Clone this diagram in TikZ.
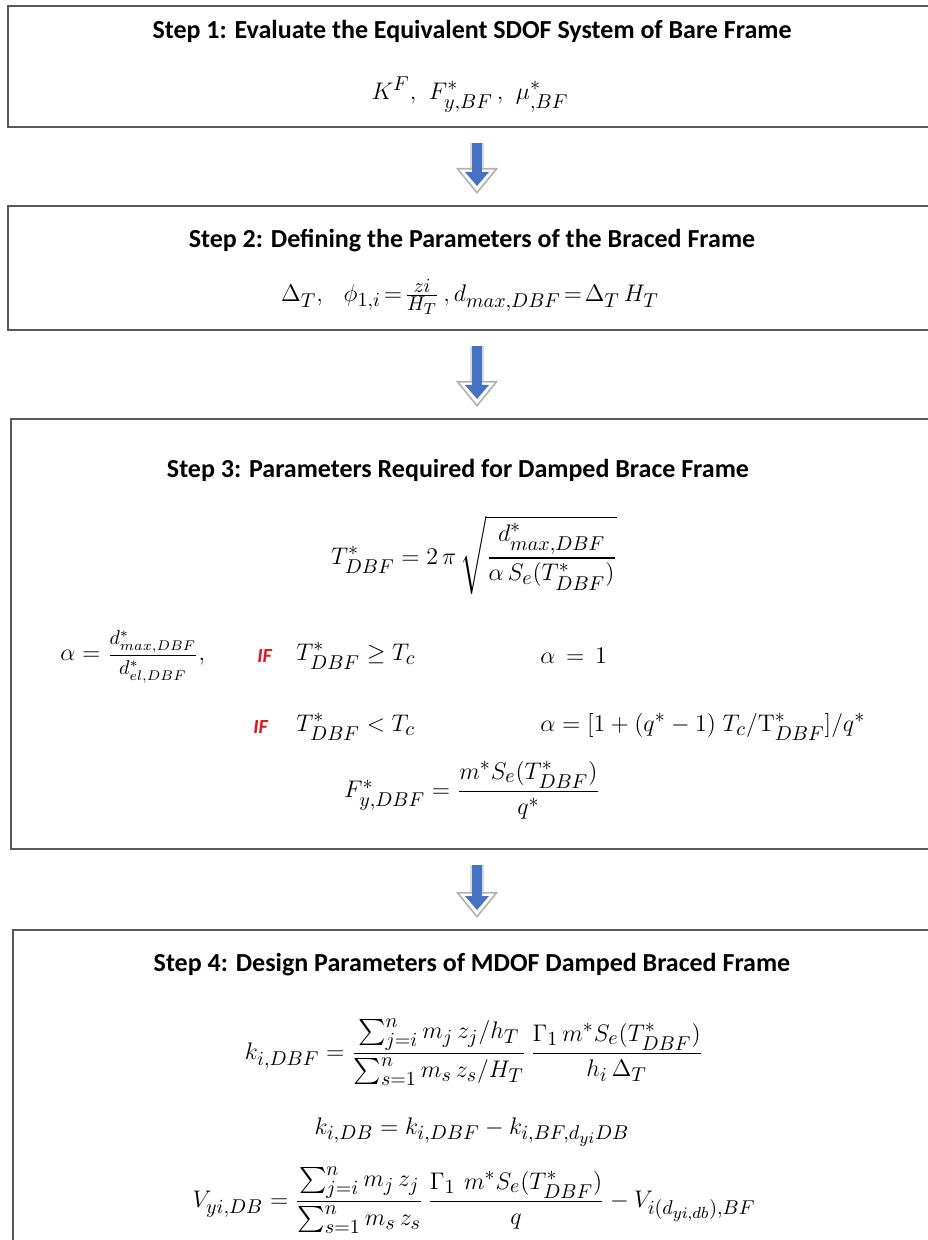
\documentclass[tikz,border=0pt]{standalone}
\usepackage[no-math]{fontspec}
\usepackage{amsmath,amssymb}
\newfontfamily\calfont{Carlito}
\DeclareMathSizes{13}{13}{10}{8}
\usetikzlibrary{positioning,arrows.meta}
\definecolor{flowblue}{HTML}{4472C4}
\definecolor{ifred}{HTML}{E8141B}
\definecolor{boxgrey}{HTML}{5A5A5A}
\tikzset{
  stepbox/.style={draw=boxgrey,line width=1pt,fill=none,inner sep=0pt,outer sep=0pt},
  steptitle/.style={font=\calfont\bfseries\fontsize{13}{15}\selectfont,inner sep=1pt},
  eqn/.style={font=\fontsize{13}{16}\selectfont,inner sep=1pt},
  ifmark/.style={font=\calfont\bfseries\itshape\fontsize{10}{11}\selectfont,text=ifred,inner sep=0pt},
  flowshade/.style={draw=gray!30,line width=7pt,shorten <=8pt,shorten >=6pt,
    -{Triangle[width=21pt,length=13pt,fill=white,color=gray!60,line width=0.8pt]}},
  flowarrow/.style={draw=flowblue,line width=5pt,shorten <=8pt,shorten >=10pt,
    -{Triangle[width=12pt,length=7pt,fill=flowblue,color=flowblue,line width=0pt]}},
}
\begin{document}
\begin{tikzpicture}[x=0.5pt,y=-0.5pt]
  \useasboundingbox (0,0) rectangle (927,1240);
  % the four step boxes
  \node[stepbox,minimum width=469pt,minimum height=60.5pt] (s1) at (477,66.5) {};
  \node[stepbox,minimum width=469pt,minimum height=62pt] (s2) at (477,268) {};
  \node[stepbox,minimum width=466pt,minimum height=215pt] (s3) at (477,634) {};
  \node[stepbox,minimum width=464pt,minimum height=180pt] (s4) at (477,1110) {};
  % step 1
  \node[steptitle] (t1) at (472,31) {Step 1: Evaluate the Equivalent SDOF System of Bare Frame};
  \node[eqn] (e1) at (470,95) {$K^F,\ F^*_{y,BF}\,,\ \mu^*_{,BF}$};
  % step 2
  \node[steptitle] (t2) at (472,241) {Step 2: Defining the Parameters of the Braced Frame};
  \node[eqn] (e2) at (470,297) {$\Delta_T,\ \ \phi_{1,i}\!=\!\frac{z i}{H_T}\,,d_{max,DBF}\!=\!\Delta_T\,H_T$};
  % step 3
  \node[steptitle] (t3) at (458,470) {Step 3: Parameters Required for Damped Brace Frame};
  \node[eqn] (e3) at (474,555) {$T^*_{DBF} = 2\,\pi\,\sqrt{\dfrac{d^*_{max,DBF}}{\alpha\,S_e(T^*_{DBF})}}$};
  \node[eqn,anchor=west] (al) at (58,657) {$\alpha = \mbox{\fontsize{10}{12}\selectfont$\displaystyle\frac{d^*_{max,DBF}}{d^*_{el,DBF}}$},$};
  \node[ifmark,anchor=west] (if1) at (257,656) {IF};
  \node[eqn,anchor=west] (c1) at (294,656) {$T^*_{DBF} \geq T_c$};
  \node[eqn,anchor=west] (r1) at (538,656) {$\alpha\,=\,1$};
  \node[ifmark,anchor=west] (if2) at (253,727) {IF};
  \node[eqn,anchor=west] (c2) at (294,727) {$T^*_{DBF} < T_c$};
  \node[eqn,anchor=west] (r2) at (538,727) {$\alpha = [1+(q^*-1)\;T_c/\mathrm{T}^*_{DBF}]/q^*$};
  \node[eqn] (f3) at (472,790) {$F^*_{y,DBF} = \dfrac{m^*S_e(T^*_{DBF})}{q^*}$};
  % step 4
  \node[steptitle] (t4) at (472,965) {Step 4: Design Parameters of MDOF Damped Braced Frame};
  \node[eqn] (k1) at (474,1052) {$k_{i,DBF} = \dfrac{\sum_{j=i}^{n} m_j\,z_j/h_T}{\sum_{s=1}^{n} m_s\,z_s/H_T}\,\dfrac{\Gamma_1\,m^*S_e(T^*_{DBF})}{h_i\,\Delta_T}$};
  \node[eqn] (k2) at (472,1132) {$k_{i,DB} = k_{i,DBF} - k_{i,BF,d_{yi}DB}$};
  \node[eqn] (v4) at (474,1200) {$V_{yi,DB} = \dfrac{\sum_{j=i}^{n} m_j\,z_j}{\sum_{s=1}^{n} m_s\,z_s}\,\dfrac{\Gamma_1\ m^*S_e(T^*_{DBF})}{q} - V_{i(d_{yi,db}),BF}$};
  % block arrows between the steps
  \foreach \a/\b in {s1/s2,s2/s3,s3/s4}{
    \draw[flowshade] (\a.south) -- (\b.north);
    \draw[flowarrow] (\a.south) -- (\b.north);
  }
\end{tikzpicture}
\end{document}
